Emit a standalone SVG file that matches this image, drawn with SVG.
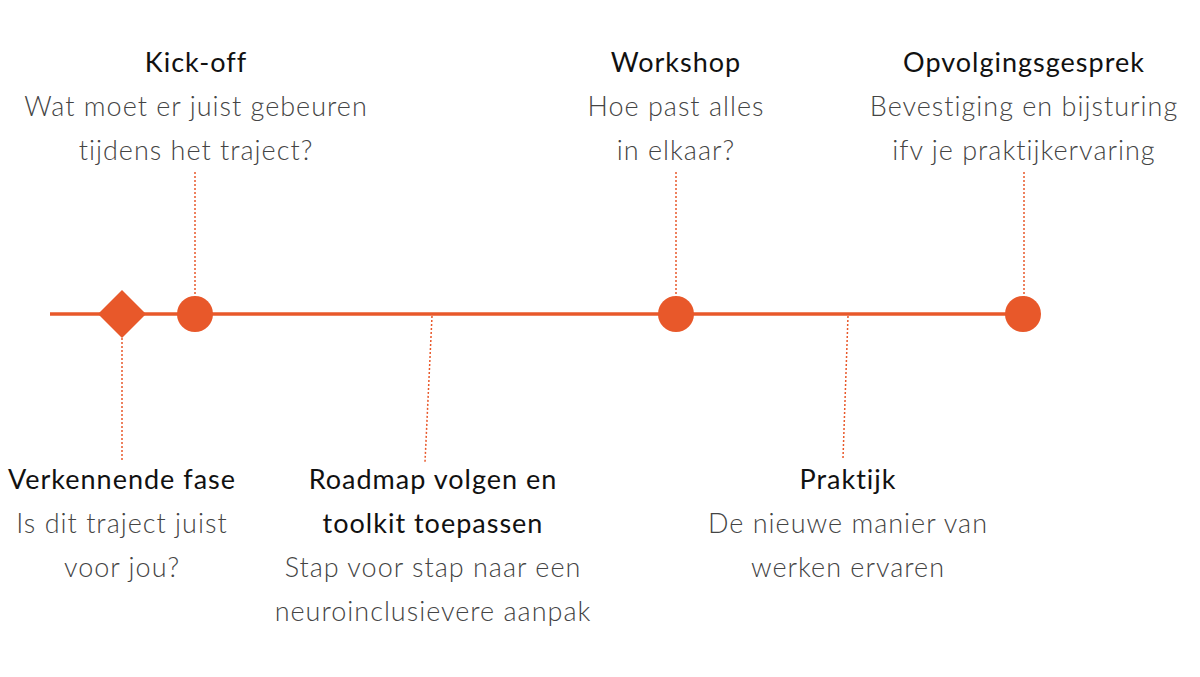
<svg xmlns="http://www.w3.org/2000/svg" width="1200" height="677" viewBox="0 0 1200 677">
<style>
text{font-family:Lato,"Open Sans",sans-serif;font-size:27px;fill:#222;text-anchor:middle;letter-spacing:1px}
.t{font-weight:400;fill:#111}
.s{font-weight:300;fill:#444}
.dot{stroke:#E8582A;stroke-width:1.5;stroke-dasharray:2 2;fill:none}
.m{fill:#E8582A}
</style>
<rect width="1200" height="677" fill="#fff"/>
<g id="connectors">
<line x1="50" y1="314" x2="1010" y2="314" stroke="#E8582A" stroke-width="3.5"/>
<line class="dot" x1="195" y1="172" x2="195" y2="298"/>
<line class="dot" x1="676" y1="172" x2="676" y2="298"/>
<line class="dot" x1="1024" y1="172" x2="1024" y2="298"/>
<line class="dot" x1="122" y1="338" x2="122" y2="462"/>
<line class="dot" x1="432" y1="316" x2="425" y2="462"/>
<line class="dot" x1="848" y1="316" x2="843" y2="458"/>
</g>
<g id="verkennende"><polygon class="m" points="122,290 146,314 122,338 98,314"/>
<text class="t" x="122" y="489">Verkennende fase</text><text class="s" x="122" y="533">Is dit traject juist</text><text class="s" x="122" y="577">voor jou?</text></g>
<g id="kickoff"><circle class="m" cx="195" cy="314" r="18"/>
<text class="t" x="196" y="72">Kick-off</text><text class="s" x="196" y="116">Wat moet er juist gebeuren</text><text class="s" x="196" y="160">tijdens het traject?</text></g>
<g id="roadmap">
<text class="t" x="433" y="489">Roadmap volgen en</text><text class="t" x="433" y="533">toolkit toepassen</text><text class="s" x="433" y="577">Stap voor stap naar een</text><text class="s" x="433" y="621">neuroinclusievere aanpak</text></g>
<g id="workshop"><circle class="m" cx="676" cy="314" r="18"/>
<text class="t" x="676" y="72">Workshop</text><text class="s" x="676" y="116">Hoe past alles</text><text class="s" x="676" y="160">in elkaar?</text></g>
<g id="praktijk">
<text class="t" x="848" y="489">Praktijk</text><text class="s" x="848" y="533">De nieuwe manier van</text><text class="s" x="848" y="577">werken ervaren</text></g>
<g id="opvolging"><circle class="m" cx="1023" cy="314" r="18"/>
<text class="t" x="1024" y="72">Opvolgingsgesprek</text><text class="s" x="1024" y="116">Bevestiging en bijsturing</text><text class="s" x="1024" y="160">ifv je praktijkervaring</text></g>
</svg>
